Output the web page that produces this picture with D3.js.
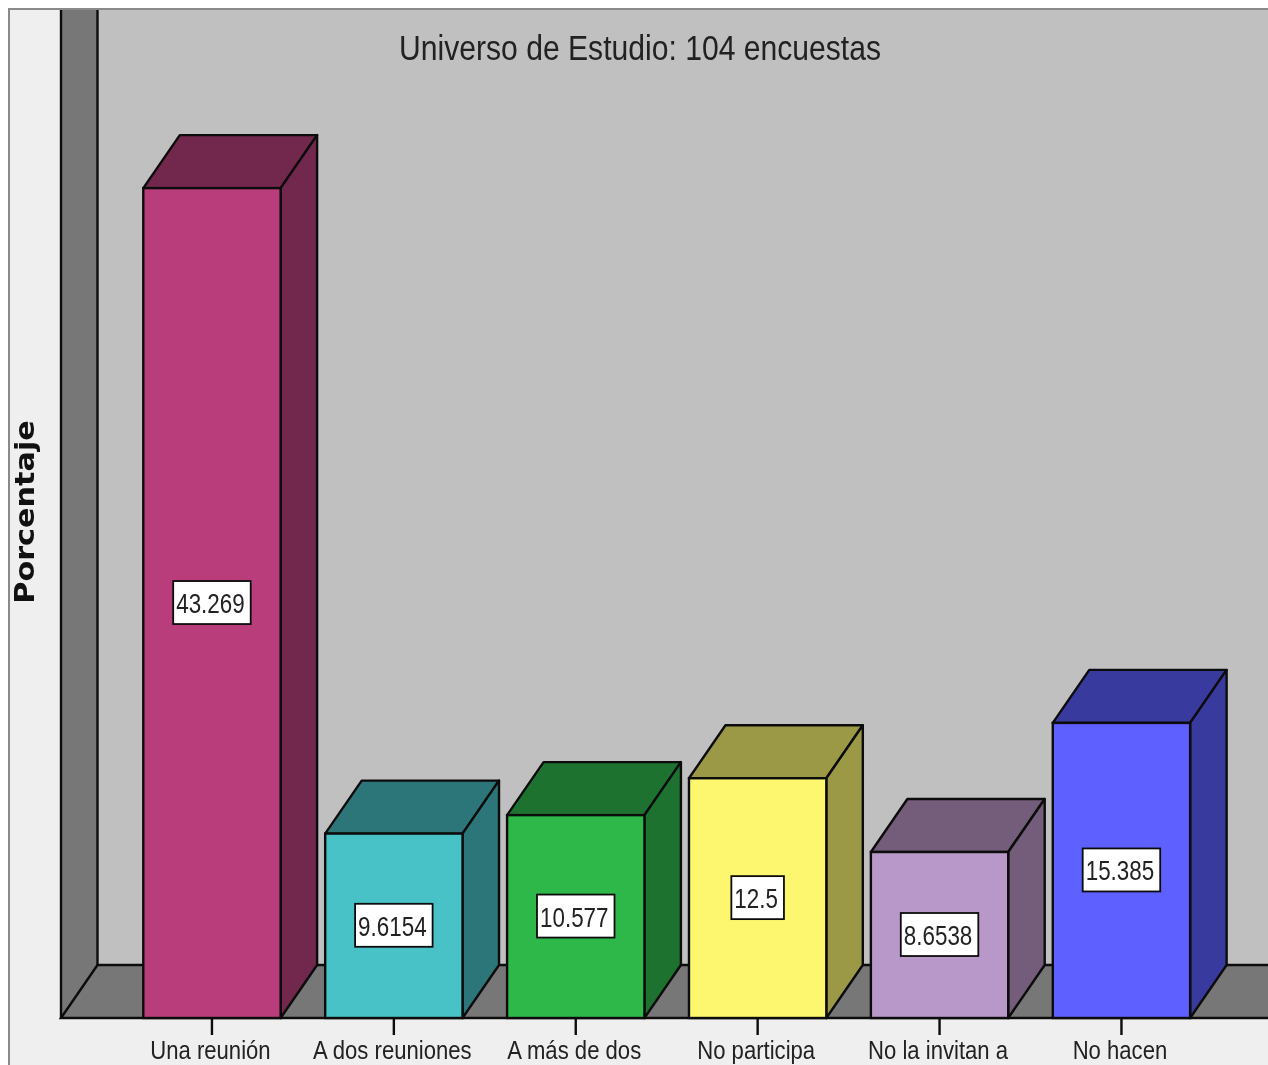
<!DOCTYPE html>
<html>
<head>
<meta charset="utf-8">
<script src="https://cdn.jsdelivr.net/npm/d3@7"></script>
<style>
html,body{margin:0;padding:0;background:#fff;overflow:hidden}
svg{display:block;filter:blur(0.7px)}
text{font-family:"Liberation Sans",Arial,sans-serif;fill:#222}
</style>
</head>
<body>
<svg id="chart" width="1268" height="1065"></svg>
<script>
const categories = ["Una reunión","A dos reuniones","A más de dos","No participa","No la invitan a","No hacen"];
const percentages = [43.269,9.6154,10.577,12.5,8.6538,15.385];
const valueLabels = ["43.269","9.6154","10.577","12.5","8.6538","15.385"];
const frontColors = ["#b93c7b","#48c2c6","#2fb84a","#fdf76f","#b898c8","#5e60ff"];
const sideColors = ["#72274d","#2c7679","#1c722e","#9c9946","#735d7a","#393a9e"];
const titleText = "Universo de Estudio: 104 encuestas";
const yAxisTitle = "Porcentaje";

const W = 1268, H = 1065;
const base = 1018, dx = 36.5, dy = 53, wallX = 61, frame = 9;
const svg = d3.select("#chart");
const ink = "#0c0c0c";
const sw = 2.4;

const x = d3.scaleBand().domain(categories).range([121,1212.4]).paddingInner(0.245).paddingOuter(0.1225);
const y = d3.scaleLinear().domain([0,50]).range([base,59]);

function squeeze(sel, factor){
  sel.each(function(){
    const w = this.getComputedTextLength();
    d3.select(this).attr("textLength", w*factor).attr("lengthAdjust","spacingAndGlyphs");
  });
}

// panel
svg.append("rect").attr("width",W).attr("height",H).attr("fill","#fff");
svg.append("rect").attr("x",frame).attr("y",frame).attr("width",W).attr("height",H).attr("fill","#efefef").attr("stroke","#8a8a8a").attr("stroke-width",2);

// back wall, side wall and floor
svg.append("rect").attr("x",wallX+dx).attr("y",frame+1).attr("width",W).attr("height",base-dy-frame-1).attr("fill","#c0c0c0");
svg.append("rect").attr("x",wallX).attr("y",frame+1).attr("width",dx).attr("height",base-frame-1).attr("fill","#777");
svg.append("path").attr("d",`M${wallX},${frame+1}V${base}M${wallX+dx},${frame+1}V${base-dy}`).attr("fill","none").attr("stroke",ink).attr("stroke-width",sw);
svg.append("path").attr("d",`M${wallX},${base}L${wallX+dx},${base-dy}H${W+5}V${base}Z`).attr("fill","#777").attr("stroke",ink).attr("stroke-width",sw);

// bars
const bars = svg.append("g").selectAll("g").data(categories).join("g");
const bw = x.bandwidth();
bars.append("path")
  .attr("d",(c,i)=>{const l=x(c),t=y(percentages[i]);return `M${l},${t}l${dx},${-dy}h${bw}l${-dx},${dy}Z`;})
  .attr("fill",(c,i)=>sideColors[i]).attr("stroke",ink).attr("stroke-width",sw).attr("stroke-linejoin","round");
bars.append("path")
  .attr("d",(c,i)=>{const r=x(c)+bw,t=y(percentages[i]);return `M${r},${t}l${dx},${-dy}V${base-dy}L${r},${base}Z`;})
  .attr("fill",(c,i)=>sideColors[i]).attr("stroke",ink).attr("stroke-width",sw).attr("stroke-linejoin","round");
bars.append("rect")
  .attr("x",c=>x(c)).attr("y",(c,i)=>y(percentages[i])).attr("width",bw)
  .attr("height",(c,i)=>base-y(percentages[i]))
  .attr("fill",(c,i)=>frontColors[i]).attr("stroke",ink).attr("stroke-width",sw);

// value labels
bars.each(function(c,i){
  const g = d3.select(this);
  const cx = x(c)+bw/2, cy = (y(percentages[i])+base)/2;
  const box = g.append("rect").attr("fill","#fff").attr("stroke",ink).attr("stroke-width",1.8);
  const t = g.append("text").attr("x",cx-1.5).attr("y",cy+10).attr("text-anchor","middle").attr("font-size",28).text(valueLabels[i]);
  squeeze(t,0.8);
  const tw = +t.attr("textLength");
  box.attr("x",cx-tw/2-4.5).attr("y",cy-22).attr("width",tw+9).attr("height",43);
});

// category axis
const axis = svg.append("g").attr("transform",`translate(0,${base})`)
  .call(d3.axisBottom(x).tickSize(17).tickPadding(6));
axis.select(".domain").remove();
axis.selectAll(".tick line").attr("stroke",ink).attr("stroke-width",sw);
axis.selectAll(".tick text").attr("dx",-1.5).attr("font-size",26).attr("font-family",'"Liberation Sans",Arial,sans-serif').attr("fill","#222").call(squeeze,0.85);

// titles
svg.append("text").attr("x",640).attr("y",60).attr("text-anchor","middle").attr("font-size",35).text(titleText).call(squeeze,0.86);
svg.append("text").attr("transform","translate(34,512) rotate(-90)").attr("text-anchor","middle")
  .style("font-family",'"DejaVu Sans",sans-serif').attr("font-size",27).attr("font-weight","bold").style("fill","#111").text(yAxisTitle).call(squeeze,1.12);
</script>
</body>
</html>
